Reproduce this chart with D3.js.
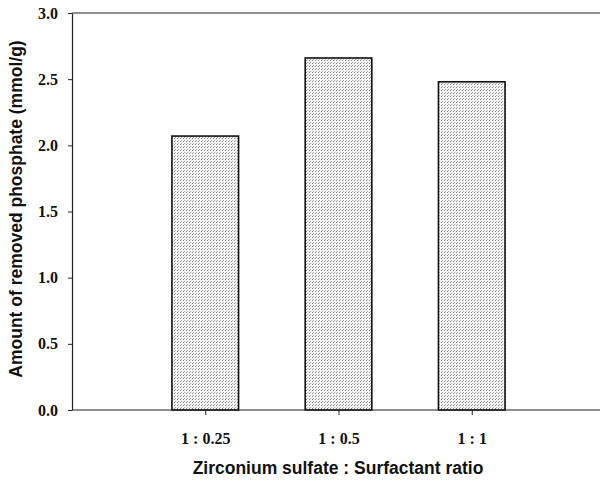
<!DOCTYPE html>
<html>
<head>
<meta charset="utf-8">
<script src="https://cdn.jsdelivr.net/npm/d3@7"></script>
<style>
body { margin: 0; background: #fff; }
</style>
</head>
<body>
<script>
const categories = ['1 : 0.25', '1 : 0.5', '1 : 1'];
const values = [2.07, 2.66, 2.48];
const yTicks = [0, 0.5, 1.0, 1.5, 2.0, 2.5, 3.0];

const width = 600, height = 481;
const margin = { top: 13, left: 72, bottom: 71 };

const svg = d3.select('body').append('svg')
	.attr('width', width)
	.attr('height', height);

// stipple fill for the bars
const defs = svg.append('defs');
const pat = defs.append('pattern')
	.attr('id', 'dots')
	.attr('patternUnits', 'userSpaceOnUse')
	.attr('width', 3)
	.attr('height', 3);
pat.append('rect').attr('width', 3).attr('height', 3).attr('fill', '#f4f4f4');
pat.append('rect').attr('width', 1).attr('height', 1).attr('fill', '#8a8a8a');
pat.append('rect').attr('x', 1).attr('y', 2).attr('width', 1).attr('height', 1).attr('fill', '#b0b0b0');

let y = d3.scaleLinear()
	.domain([0, 3])
	.range([height - margin.bottom, margin.top]);

// categories sit at 1, 2, 3 on a 0..4 axis
let x = d3.scaleLinear()
	.domain([0, 4])
	.range([margin.left, 605]);

const barW = x(0.5) - x(0);

svg.selectAll('rect.bar')
	.data(values)
	.enter().append('rect')
	.attr('class', 'bar')
	.attr('x', (d, i) => x(i + 1) - barW / 2)
	.attr('y', d => y(d))
	.attr('width', barW)
	.attr('height', d => y(0) - y(d))
	.attr('fill', 'url(#dots)')
	.attr('stroke', '#111')
	.attr('stroke-width', 1.6);

// top frame line
svg.append('line')
	.attr('x1', margin.left).attr('x2', width)
	.attr('y1', y(3)).attr('y2', y(3))
	.attr('stroke', '#222').attr('stroke-width', 1.2);

let yAxis = svg.append('g')
	.attr('transform', 'translate(' + margin.left + ',0)')
	.call(d3.axisLeft(y).tickValues(yTicks).tickFormat(d3.format('.1f')).tickSize(4).tickSizeOuter(0));

let xAxis = svg.append('g')
	.attr('transform', 'translate(0,' + y(0) + ')')
	.call(d3.axisBottom(x).tickValues([1, 2, 3]).tickFormat((d, i) => categories[i]).tickSize(5).tickSizeOuter(0));

xAxis.select('.domain').attr('d', 'M' + margin.left + ',0H' + width);

[yAxis, xAxis].forEach(ax => {
	ax.select('.domain').attr('stroke', '#222').attr('stroke-width', 1.2);
	ax.selectAll('.tick line').attr('stroke', '#222');
	ax.selectAll('.tick text')
		.attr('fill', '#111')
		.style('font-family', '"Liberation Serif", "Times New Roman", serif')
		.style('font-weight', 'bold')
		.style('font-size', '16px');
});
yAxis.selectAll('.tick text').attr('x', -14);
xAxis.selectAll('.tick text').attr('y', 34).attr('dy', 0);

// axis titles
svg.append('text')
	.attr('x', 338).attr('y', 474)
	.attr('text-anchor', 'middle')
	.style('font-family', '"Liberation Sans", Arial, sans-serif')
	.style('font-weight', 'bold')
	.style('font-size', '17.5px')
	.attr('fill', '#111')
	.text('Zirconium sulfate : Surfactant ratio');

svg.append('text')
	.attr('transform', 'translate(22,209) rotate(-90)')
	.attr('text-anchor', 'middle')
	.style('font-family', '"Liberation Sans", Arial, sans-serif')
	.style('font-weight', 'bold')
	.style('font-size', '17.5px')
	.attr('fill', '#111')
	.text('Amount of removed phosphate (mmol/g)');
</script>
</body>
</html>
